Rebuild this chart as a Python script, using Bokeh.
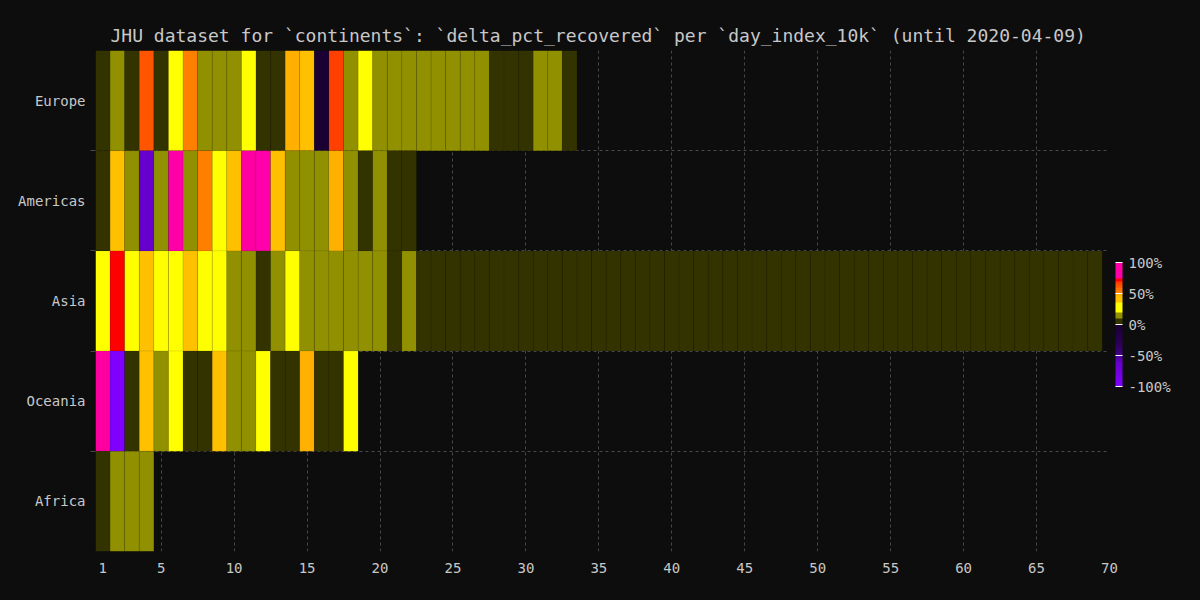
from bokeh.plotting import figure
from bokeh.models import (ColumnDataSource, Range1d, FixedTicker, ColorBar,
                          LinearColorMapper, PrintfTickFormatter)
from bokeh.transform import transform
from bokeh.embed import file_html
from bokeh.resources import INLINE

# ---------------- data ----------------
continents = ["Europe", "Americas", "Asia", "Oceania", "Africa"]

europe = [4.2, 13.1, 6.3, 63.8, 3.7, 30.2, 54.6, 17.2, 12.4, 15.8,
          33.3, 8.1, 5.9, 45.5, 37.1, -4.8, 66.7, 14.3, 25.0, 16.4,
          13.9, 12.7, 15.2, 14.1, 11.6, 13.3, 12.2, 8.9, 7.6, 9.3,
          12.8, 10.9, 6.7]
americas = [3.9, 43.8, 16.5, -61.5, 14.0, 92.3, 17.1, 52.4, 28.6, 39.7,
            85.0, 80.0, 44.1, 13.7, 15.4, 12.9, 46.2, 11.8, 4.4, 12.5,
            6.6, 2.8]
asia = [31.0, 71.5, 29.4, 41.2, 27.8, 26.5, 38.9, 24.3, 22.7, 16.8,
        14.2, 6.1, 13.5, 21.4, 15.9, 14.7, 13.8, 12.6, 15.1, 11.9,
        7.4, 12.3,
        2.1, 1.8, 2.6, 1.4, 2.3, 1.9, 3.1, 2.2, 1.6, 2.8,
        1.2, 2.4, 1.7, 2.9, 1.3, 2.0, 1.5, 2.7, 1.1, 2.2,
        1.8, 2.5, 1.4, 1.9, 2.3, 1.6, 2.1, 1.2, 1.8, 2.4,
        1.5, 1.7, 2.0, 1.3, 1.9, 1.1, 1.6, 1.4, 2.2, 1.0,
        1.8, 1.2, 1.5, 0.9, 1.3, 1.1, 0.8]
oceania = [88.9, -96.7, 3.2, 40.6, 18.2, 23.5, 5.0, 7.7, 42.9, 15.6,
           13.2, 26.8, 4.6, 8.3, 47.1, 6.9, 3.5, 31.7]
africa = [2.5, 14.8, 11.3, 16.0]

series = [europe, americas, asia, oceania, africa]

x_ticks = [1, 5, 10, 15, 20, 25, 30, 35, 40, 45, 50, 55, 60, 65, 70]
cbar_ticks = [-100, -50, 0, 50, 100]

# ---------------- styling ----------------
BG = "#0d0d0d"
TXT = "#c8c8c8"
FONT = "DejaVu Sans Mono"
GRID = "#484848"

palette = [
    "#8000ff", "#7c00f6", "#7800ee", "#7400e6", "#7000de",
    "#6c00d6", "#6900d0", "#6600cc", "#5a00b4", "#50009f",
    "#3f007f", "#380070", "#320064", "#2d005a", "#290052",
    "#26004c", "#230046", "#200040", "#1d003a", "#1a0033",
    "#333300", "#333300", "#909000", "#909000", "#ffff00",
    "#ffff00", "#ffff00", "#ffc000", "#ffc000", "#ffb000",
    "#ff8000", "#ff7000", "#ff5500", "#ff4000", "#ff0000",
    "#ff00aa", "#ff00aa", "#ff00a0", "#ff00a8", "#ff00aa",
]
mapper = LinearColorMapper(palette=palette, low=-100, high=100)

xs, ys, vals = [], [], []
n = len(continents)
for k, vs in enumerate(series):
    for i, v in enumerate(vs):
        xs.append(i + 1)
        ys.append(n - k - 0.5)
        vals.append(v)
src = ColumnDataSource(dict(x=xs, y=ys, value=vals))

p = figure(width=1200, height=600, output_backend="svg", toolbar_location=None,
           x_range=Range1d(0.5, 70.0), y_range=Range1d(0, n),
           title="JHU dataset for `continents`: `delta_pct_recovered` per `day_index_10k` (until 2020-04-09)",
           min_border_left=95, min_border_right=91, min_border_top=50, min_border_bottom=49,
           outline_line_color=None)
p.background_fill_color = BG
p.border_fill_color = BG
p.styles = {"background-color": BG}

p.title.text_font = FONT
p.title.text_font_size = "18px"
p.title.text_font_style = "normal"
p.title.text_color = TXT
p.title.align = "left"
p.title.offset = 15

p.rect(x="x", y="y", width=1, height=1, source=src,
       fill_color=transform("value", mapper),
       line_color="black", line_alpha=0.08, line_width=1)

# x axis
p.xaxis.ticker = FixedTicker(ticks=x_ticks)
p.xaxis.axis_line_color = None
p.xaxis.major_tick_line_color = None
p.xaxis.minor_tick_line_color = None
p.xaxis.major_label_text_font = FONT
p.xaxis.major_label_text_font_size = "14px"
p.xaxis.major_label_text_color = TXT
p.xaxis.major_label_standoff = 5

# y axis
centers = [n - k - 0.5 for k in range(n)]
p.yaxis.ticker = FixedTicker(ticks=centers, minor_ticks=[1, 2, 3, 4])
p.yaxis.major_label_overrides = {c: name for c, name in zip(centers, continents)}
p.yaxis.axis_line_color = None
p.yaxis.major_tick_line_color = None
p.yaxis.minor_tick_line_color = GRID
p.yaxis.minor_tick_out = 5
p.yaxis.minor_tick_in = 0
p.yaxis.major_label_text_font = FONT
p.yaxis.major_label_text_font_size = "14px"
p.yaxis.major_label_text_color = TXT
p.yaxis.major_label_standoff = 4

# grids
p.xgrid.ticker = FixedTicker(ticks=x_ticks)
p.ygrid.ticker = FixedTicker(ticks=[1, 2, 3, 4])
for g in (p.xgrid, p.ygrid):
    g.grid_line_color = GRID
    g.grid_line_dash = "3 3"
    g.grid_line_width = 1

cb = ColorBar(color_mapper=mapper, ticker=FixedTicker(ticks=cbar_ticks),
              formatter=PrintfTickFormatter(format="%d%%"),
              width=7, height=124, padding=6, location=(0, 159),
              background_fill_color=None, border_line_color=None,
              bar_line_color=None,
              major_tick_line_color="white", major_tick_in=7, major_tick_out=0,
              minor_tick_line_color=None,
              major_label_text_font=FONT, major_label_text_font_size="14px",
              major_label_text_color=TXT, label_standoff=6)
p.add_layout(cb, "right")

open("out.html", "w").write(file_html(p, INLINE))
